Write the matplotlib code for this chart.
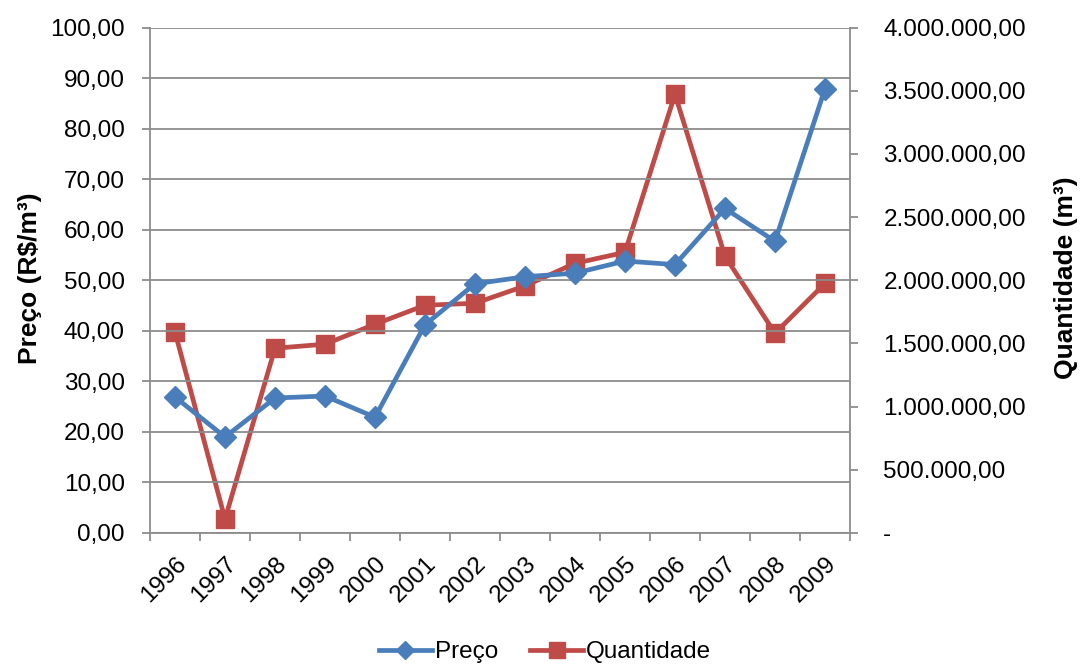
import matplotlib
matplotlib.use("Agg")
import matplotlib.pyplot as plt
from matplotlib.ticker import FixedLocator, FuncFormatter
from matplotlib.lines import Line2D

plt.rcParams['font.family'] = ['Liberation Sans', 'DejaVu Sans']

anos = ['1996', '1997', '1998', '1999', '2000', '2001', '2002',
        '2003', '2004', '2005', '2006', '2007', '2008', '2009']
preco = [26.9, 19.0, 26.7, 27.1, 22.9, 41.2, 49.3,
         50.7, 51.4, 53.8, 53.1, 64.2, 57.7, 87.9]
quantidade = [1590000, 110000, 1462000, 1494000, 1652000, 1802000, 1818000,
              1955000, 2134000, 2221000, 3472000, 2190000, 1581000, 1975000]

azul = '#4A7EBB'
vermelho = '#BE4B48'
cinza = '#8C8C8C'
fs = 17.5


def fmt_br(v, decimals=2):
    s = f"{v:,.{decimals}f}"
    return s.replace(',', 'X').replace('.', ',').replace('X', '.')


fig = plt.figure(figsize=(10.82, 6.64), dpi=100)
ax = fig.add_axes([150 / 1082, 1 - 533 / 664, 700 / 1082, (533 - 27.5) / 664])
ax2 = ax.twinx()

x = list(range(len(anos)))

ax.set_xlim(-0.5, len(anos) - 0.5)
ax.set_ylim(0, 100)
ax.set_yticks(range(0, 101, 10))
ax.yaxis.set_major_formatter(FuncFormatter(lambda v, p: fmt_br(v)))
ax.grid(axis='y', color=cinza, linewidth=1.3)
ax.set_axisbelow(True)

# category ticks between years, labels at category centres
ax.xaxis.set_major_locator(FixedLocator(x))
ax.set_xticklabels(anos, rotation=45, ha='right', rotation_mode='anchor')
ax.xaxis.set_minor_locator(FixedLocator([i - 0.5 for i in range(len(anos) + 1)]))
ax.tick_params(axis='x', which='major', length=0, pad=14, labelsize=fs)
ax.tick_params(axis='x', which='minor', length=6, width=1.3, color=cinza, direction='out')
ax.tick_params(axis='y', length=6, width=1.3, color=cinza, labelsize=fs, pad=12)

for side in ['top', 'right']:
    ax.spines[side].set_visible(False)
for side in ['left', 'bottom']:
    ax.spines[side].set_color(cinza)
    ax.spines[side].set_linewidth(1.3)

ax2.set_ylim(0, 4000000)
ax2.set_yticks(range(0, 4000001, 500000))
ax2.yaxis.set_major_formatter(FuncFormatter(lambda v, p: '-' if v == 0 else fmt_br(v)))
ax2.tick_params(axis='y', length=6, width=1.3, color=cinza, labelsize=fs, pad=18)
for side in ['top', 'left', 'bottom']:
    ax2.spines[side].set_visible(False)
ax2.spines['right'].set_color(cinza)
ax2.spines['right'].set_linewidth(1.3)

ax.plot(x, preco, color=azul, linewidth=3.4, marker='D', markersize=11,
        markerfacecolor=azul, markeredgecolor=azul, zorder=3, clip_on=False)
ax2.plot(x, quantidade, color=vermelho, linewidth=3.4, marker='s', markersize=12.5,
         markerfacecolor=vermelho, markeredgecolor=vermelho, zorder=3, clip_on=False)
ax.set_zorder(ax2.get_zorder() + 1)
ax.patch.set_visible(False)

# axis titles
fig.text(30 / 1082, 1 - 278 / 664, 'Preço (R$/m³)', rotation=90,
         ha='center', va='center', fontsize=19, fontweight='bold')
fig.text(1066 / 1082, 1 - 278 / 664, 'Quantidade (m³)', rotation=90,
         ha='center', va='center', fontsize=19, fontweight='bold')

handles = [
    Line2D([], [], color=azul, linewidth=3.4, marker='D', markersize=9),
    Line2D([], [], color=vermelho, linewidth=3.4, marker='s', markersize=11),
]
fig.legend(handles, ['Preço', 'Quantidade'], loc='center',
           bbox_to_anchor=(545 / 1082, 1 - 652 / 664), ncol=2, frameon=False,
           fontsize=fs, handlelength=2.2, handletextpad=0.12, columnspacing=1.3)

fig.savefig('out.png', dpi=100)
